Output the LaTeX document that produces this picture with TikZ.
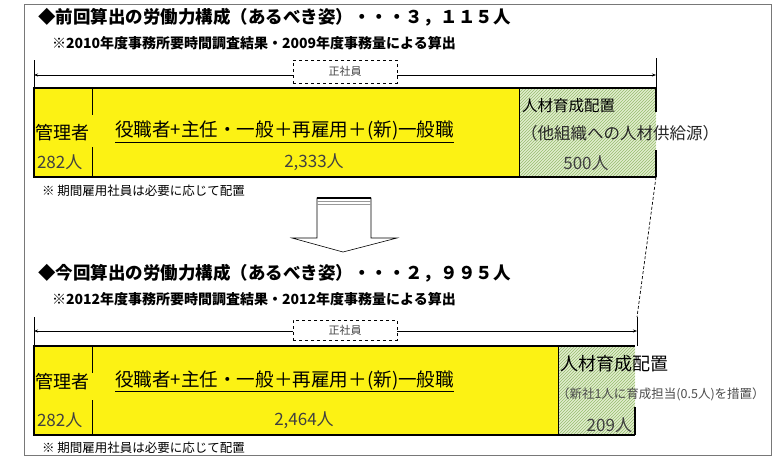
\documentclass[tikz,border=0pt]{standalone}
\usepackage{fontspec}
\setmainfont{Noto Sans CJK JP}
\usetikzlibrary{patterns,arrows.meta}
\definecolor{barY}{RGB}{252,242,20}
\definecolor{greenF}{RGB}{226,238,206}
\definecolor{greenH}{RGB}{150,188,110}
\definecolor{frameG}{RGB}{120,120,120}
\definecolor{txtG}{RGB}{70,70,70}
\tikzset{
  txt/.style={inner sep=0pt, outer sep=0pt, anchor=west},
  ttl/.style={txt, font=\fontsize{17.5}{20}\selectfont\bfseries},
  sub/.style={txt, font=\fontsize{14}{16}\selectfont\bfseries},
  note/.style={txt, font=\fontsize{12.5}{14}\selectfont},
  body/.style={txt, font=\fontsize{18}{21}\selectfont},
  num/.style={inner sep=0pt, outer sep=0pt, font=\fontsize{17}{19}\selectfont, text=black!75},
  ybar/.style={draw, line width=1.3pt, fill=barY, anchor=north west, inner sep=0pt, outer sep=0pt},
  gbar/.style={fill=greenF, postaction={pattern=north east lines, pattern color=greenH}, anchor=north west, inner sep=0pt, outer sep=0pt},
  edge/.style={line width=1.3pt},
  thin/.style={line width=0.7pt},
  brk/.style={line width=0.8pt, {Stealth[length=4pt,width=3pt]}-{Stealth[length=4pt,width=3pt]}},
  lbl/.style={draw, dashed, fill=white, text=txtG, font=\fontsize{11}{13}\selectfont, inner sep=0pt, minimum width=104pt},
}
\begin{document}
\begin{tikzpicture}[x=1pt,y=-1pt]
\useasboundingbox (0,0) rectangle (778,459);
\fill[white] (0,0) rectangle (778,459);
\draw[frameG, line width=0.8pt] (24,4) rectangle (771,455);

% ---- upper section ----
\node[ttl] (t1) at (38,17) {◆前回算出の労働力構成（あるべき姿）・・・３，１１５人};
\node[sub] (s1) at (52,43) {※2010年度事務所要時間調査結果・2009年度事務量による算出};

\coordinate (u1a) at (34,60); \coordinate (u1b) at (34,88);
\coordinate (u1c) at (656,58); \coordinate (u1d) at (656,88);
\draw[thin] (u1a) -- (u1b);
\draw[thin] (u1c) -- (u1d);
\coordinate (al1) at (34,75); \coordinate (ar1) at (656,75);
\draw[brk] (al1) -- (ar1);
\node[lbl, minimum height=23pt] (lb1) at (345,71.5) {正社員};

\node[ybar, minimum width=486pt, minimum height=89pt] (y1) at (34,88) {};
\node[gbar, minimum width=136pt, minimum height=89pt] (g1) at (520,88) {};
\draw[edge] (g1.north west) -- (g1.north east);
\draw[edge] (g1.south west) -- (g1.south east);
\draw[edge] (g1.north east) -- ++(0,24);
\draw[edge] (g1.south east) -- ++(0,-27);
\coordinate (d1a) at (92,88); \coordinate (d1b) at (92,115);
\coordinate (d1c) at (92,147); \coordinate (d1d) at (92,177);
\draw[thin] (d1a) -- (d1b);
\draw[thin] (d1c) -- (d1d);

\node[body] (m1) at (35,133) {管理者};
\node[num, anchor=west] (n1) at (37,162) {282人};
\node[body, font=\fontsize{18.6}{21}\selectfont] (r1) at (115,132) {\underline{役職者+主任・一般＋再雇用＋(新)一般職}};
\node[num] (c1) at (314,162) {2,333人};
\node[body, font=\fontsize{15.5}{19}\selectfont] (h1) at (522,106) {人材育成配置};
\node[body, font=\fontsize{16.5}{19}\selectfont, text=black!85] (h1b) at (521,133) {（他組織への人材供給源）};
\node[num] (p1) at (586,163) {500人};
\node[note] (nt1) at (42,191) {※ 期間雇用社員は必要に応じて配置};

% ---- transition arrow ----
\coordinate (ba1) at (317,198); \coordinate (ba2) at (371,198);
\coordinate (ba3) at (371,238); \coordinate (ba4) at (397,238);
\coordinate (ba5) at (343,252); \coordinate (ba6) at (292,238);
\coordinate (ba7) at (317,238);
\draw[line width=0.6pt, fill=white] (ba1) -- (ba2) -- (ba3) -- (ba4) -- (ba5) -- (ba6) -- (ba7) -- cycle;
\draw[line width=1.6pt] (ba1) -- (ba2);
\draw[black!40, line width=0.6pt] ([yshift=-3pt]ba1) -- ([yshift=-3pt]ba2);
\draw[black!40, line width=0.6pt] ([yshift=-6pt]ba1) -- ([yshift=-6pt]ba2);

% dashed connector
\coordinate (dc2) at (637,317);
\draw[line width=0.7pt, dash pattern=on 3pt off 2pt] (g1.south east) -- (dc2);

% ---- lower section ----
\node[ttl] (t2) at (38,273) {◆今回算出の労働力構成（あるべき姿）・・・２，９９５人};
\node[sub] (s2) at (52,299) {※2012年度事務所要時間調査結果・2012年度事務量による算出};

\coordinate (u2a) at (34,317); \coordinate (u2b) at (34,346);
\draw[thin] (u2a) -- (u2b);
\coordinate (u2d) at (637,346);
\draw[thin] (dc2) -- (u2d);
\coordinate (al2) at (34,331); \coordinate (ar2) at (637,331);
\draw[brk] (al2) -- (ar2);
\node[lbl, minimum height=20pt] (lb2) at (345,330) {正社員};

\node[ybar, minimum width=525pt, minimum height=89pt] (y2) at (34,346) {};
\node[gbar, minimum width=76pt, minimum height=89pt] (g2) at (559,346) {};
\draw[edge] (g2.north west) -- (g2.north east);
\draw[edge] (g2.south west) -- (g2.south east);
\draw[edge] (g2.south east) -- ++(0,-28);
\coordinate (d2a) at (92,346); \coordinate (d2b) at (92,373);
\coordinate (d2c) at (92,400); \coordinate (d2d) at (92,435);
\draw[thin] (d2a) -- (d2b);
\draw[thin] (d2c) -- (d2d);

\node[body] (m2) at (35,382) {管理者};
\node[num, anchor=west] (n2) at (37,420) {282人};
\node[body, font=\fontsize{18.6}{21}\selectfont] (r2) at (115,381) {\underline{役職者+主任・一般＋再雇用＋(新)一般職}};
\node[num] (c2) at (304,420) {2,464人};
\node[body, font=\fontsize{18}{20}\selectfont] (h2) at (560,364) {人材育成配置};
\node[body, font=\fontsize{12.5}{14}\selectfont, text=black!70] (h2b) at (557,394) {（新社1人に育成担当(0.5人)を措置）};
\node[num, anchor=east] (p2) at (632,425) {209人};
\node[note] (nt2) at (42,448) {※ 期間雇用社員は必要に応じて配置};
\end{tikzpicture}
\end{document}
